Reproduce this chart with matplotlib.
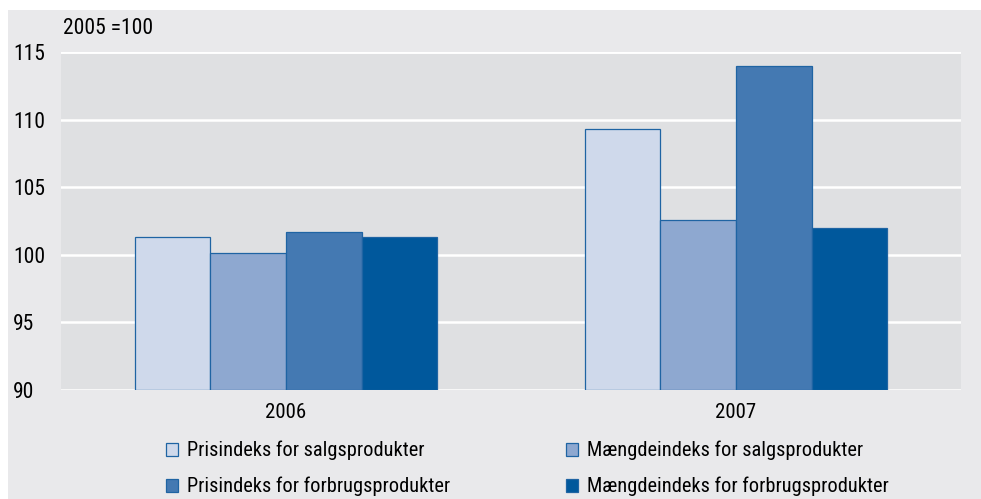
import matplotlib
import numpy as np
from matplotlib import pyplot as plt
from matplotlib import font_manager
from matplotlib.patches import Rectangle

matplotlib.use("Agg")

# pick a narrow sans font if one is installed
installed = {(f.name, f.stretch) for f in font_manager.fontManager.ttflist}
installed_names = {n for n, _ in installed}
font_family, font_stretch = "Lato", "normal"
for cand in ["Liberation Sans Narrow", "Roboto Condensed", "Open Sans Condensed"]:
    if cand in installed_names:
        font_family = cand
        break
else:
    if ("DejaVu Sans", "condensed") in installed or ("DejaVu Sans", "semi-condensed") in installed:
        font_family, font_stretch = "DejaVu Sans", "condensed"
matplotlib.rcParams["font.family"] = [font_family, "DejaVu Sans"]
matplotlib.rcParams["font.stretch"] = font_stretch

# data (index, 2005 = 100)
years = ["2006", "2007"]
series_names = [
    "Prisindeks for salgsprodukter",
    "Mængdeindeks for salgsprodukter",
    "Prisindeks for forbrugsprodukter",
    "Mængdeindeks for forbrugsprodukter",
]
pris_salg = [101.3, 109.3]
maengde_salg = [100.1, 102.6]
pris_forbrug = [101.7, 114.0]
maengde_forbrug = [101.3, 102.0]
y_ticks = [90, 95, 100, 105, 110, 115]

colors = ["#cfd9eb", "#8ea8d0", "#4479b2", "#00589c"]
edge = "#1f64a3"

fig = plt.figure(figsize=(9.81, 4.99), dpi=100)
fig.patch.set_facecolor("white")
# grey panel behind everything
fig.patches.append(
    Rectangle((8 / 981, 0), 1, 1 - 10 / 499, transform=fig.transFigure,
              facecolor="#e9e9eb", edgecolor="none", zorder=-10)
)

ax = fig.add_axes([61 / 981, 1 - 390 / 499, 900 / 981, 338 / 499])
ax.set_facecolor("#dfe0e2")

x = np.arange(len(years))
width = 0.168
all_series = [pris_salg, maengde_salg, pris_forbrug, maengde_forbrug]
handles = []
for i, vals in enumerate(all_series):
    offset = (i - 1.5) * width
    b = ax.bar(x + offset, np.array(vals) - 90, width, bottom=90,
               color=colors[i], edgecolor=edge, linewidth=0.9, zorder=3,
               label=series_names[i])
    handles.append(b)

ax.set_xlim(-0.5, 1.5)
ax.set_ylim(90, 115)
ax.set_yticks(y_ticks)
ax.set_yticklabels([str(t) for t in y_ticks], fontsize=15.5, ha="left")
ax.tick_params(axis="y", length=0, pad=34.5)
ax.set_xticks(x)
ax.set_xticklabels(years, fontsize=15)
ax.tick_params(axis="x", length=0, pad=9)
ax.grid(axis="y", color="white", linewidth=1.8, zorder=1)
ax.set_axisbelow(True)
for s in ax.spines.values():
    s.set_visible(False)
ax.axhline(115, color="white", linewidth=1.8, zorder=1)

fig.text(63 / 981, 1 - 28 / 499, "2005 =100", fontsize=15.5, va="center", ha="left")

# two-column legend drawn as two small legends
leg_kw = dict(frameon=False, fontsize=14.7, handlelength=0.6, handleheight=0.6,
              handletextpad=0.45, labelspacing=0.8, loc="upper left",
              borderaxespad=0, borderpad=0)
leg1 = fig.legend([handles[0], handles[2]], [series_names[0], series_names[2]],
                  bbox_to_anchor=(166 / 981, 1 - 441 / 499), **leg_kw)
leg2 = fig.legend([handles[1], handles[3]], [series_names[1], series_names[3]],
                  bbox_to_anchor=(566 / 981, 1 - 441 / 499), **leg_kw)

fig.savefig("out.png", dpi=100)
